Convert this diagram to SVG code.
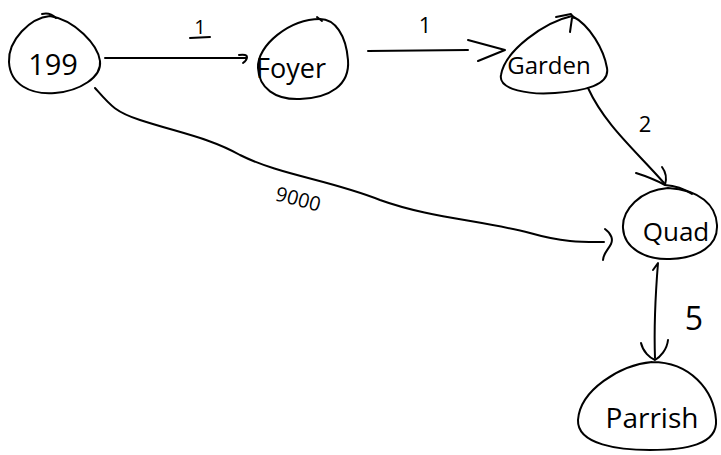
<svg xmlns="http://www.w3.org/2000/svg" width="721" height="455" viewBox="0 0 721 455">
  <style>
    .ink { fill: none; stroke: #000; stroke-width: 2; stroke-linecap: round; stroke-linejoin: round; }
    .lbl { font-family: "Open Sans", "DejaVu Sans", sans-serif; fill: #000; font-weight: 400; }
  </style>
  <rect width="721" height="455" fill="#fff"/>

  <!-- nodes -->
  <g id="n199">
    <path class="ink" d="M 50 16 C 30 18, 8 40, 9 62 C 10 84, 30 95, 55 93 C 80 91, 102 77, 100 61 C 98 45, 75 20, 50 16"/>
    <path class="ink" d="M 42 14 Q 50 12 56 18"/>
    <text class="lbl" x="53" y="75" font-size="29" text-anchor="middle">199</text>
  </g>
  <g id="foyer">
    <path class="ink" d="M 320 19 C 290 19, 257 45, 258 68 C 259 88, 275 100, 300 99 C 330 98, 350 85, 348 60 C 346 35, 335 19, 320 19"/>
    <path class="ink" d="M 317 17 L 322 21"/>
    <text class="lbl" x="291" y="78" font-size="27" text-anchor="middle">Foyer</text>
  </g>
  <g id="garden">
    <path class="ink" d="M 572 16 C 545 22, 505 50, 501 75 C 498 90, 530 95, 555 93 C 585 91, 610 85, 607 68 C 604 50, 590 25, 572 16"/>
    <path class="ink" d="M 556 17 L 571 14 L 574 18 M 572 18 L 570 32"/>
    <text class="lbl" x="549" y="74" font-size="24" text-anchor="middle">Garden</text>
  </g>
  <g id="quad">
    <path class="ink" d="M 668 188 C 640 190, 622 210, 623 228 C 624 248, 645 260, 670 259 C 700 258, 718 245, 717 225 C 716 205, 700 190, 668 188"/>
    <text class="lbl" x="676" y="241" font-size="26" text-anchor="middle">Quad</text>
  </g>
  <g id="parrish">
    <path class="ink" d="M 652 362 C 620 365, 580 390, 578 420 C 577 445, 620 450, 650 450 C 685 450, 718 445, 716 420 C 714 390, 690 362, 652 362"/>
    <text class="lbl" x="652" y="428" font-size="28" text-anchor="middle">Parrish</text>
  </g>

  <!-- connectors -->
  <g id="edges">
    <!-- 199 -> Foyer -->
    <path class="ink" d="M 105 58 L 246 58"/>
    <path class="ink" d="M 239 55 Q 247 54 247 57 Q 247 60 243 63"/>
    <!-- Foyer -> Garden -->
    <path class="ink" d="M 368 51 L 468 50"/>
    <path class="ink" d="M 468 40 L 505 50 L 478 61"/>
    <!-- Garden -> Quad -->
    <path class="ink" d="M 588 88 C 605 125, 635 150, 664 183"/>
    <path class="ink" d="M 636 173 Q 652 178 665 185 M 662 167 Q 668 175 665 185 Q 680 186 692 194"/>
    <!-- 199 -> Quad -->
    <path class="ink" d="M 95 88 C 110 105, 115 112, 140 120 C 180 133, 210 138, 240 155 C 280 175, 330 180, 380 200 C 430 218, 480 220, 530 233 C 565 243, 585 242, 604 242"/>
    <path class="ink" d="M 605 229 C 612 234, 613 240, 611 244 C 608 250, 603 254, 603 260"/>
    <!-- Quad -> Parrish -->
    <path class="ink" d="M 653 270 L 658 263 C 655 300, 654 330, 655 358"/>
    <path class="ink" d="M 641 343 C 643 352, 650 358, 655 360 C 660 357, 667 350, 668 340"/>

    <!-- weights -->
    <text class="lbl" x="200" y="34" font-size="20" text-anchor="middle">1</text>
    <path class="ink" d="M 190 38 L 210 37"/>
    <text class="lbl" x="425" y="33" font-size="22" text-anchor="middle">1</text>
    <text class="lbl" x="645" y="132" font-size="22" text-anchor="middle">2</text>
    <text class="lbl" x="298" y="206" font-size="20" text-anchor="middle" transform="rotate(15 298 200)">9000</text>
    <text class="lbl" x="694" y="330" font-size="32" text-anchor="middle">5</text>
  </g>
</svg>
